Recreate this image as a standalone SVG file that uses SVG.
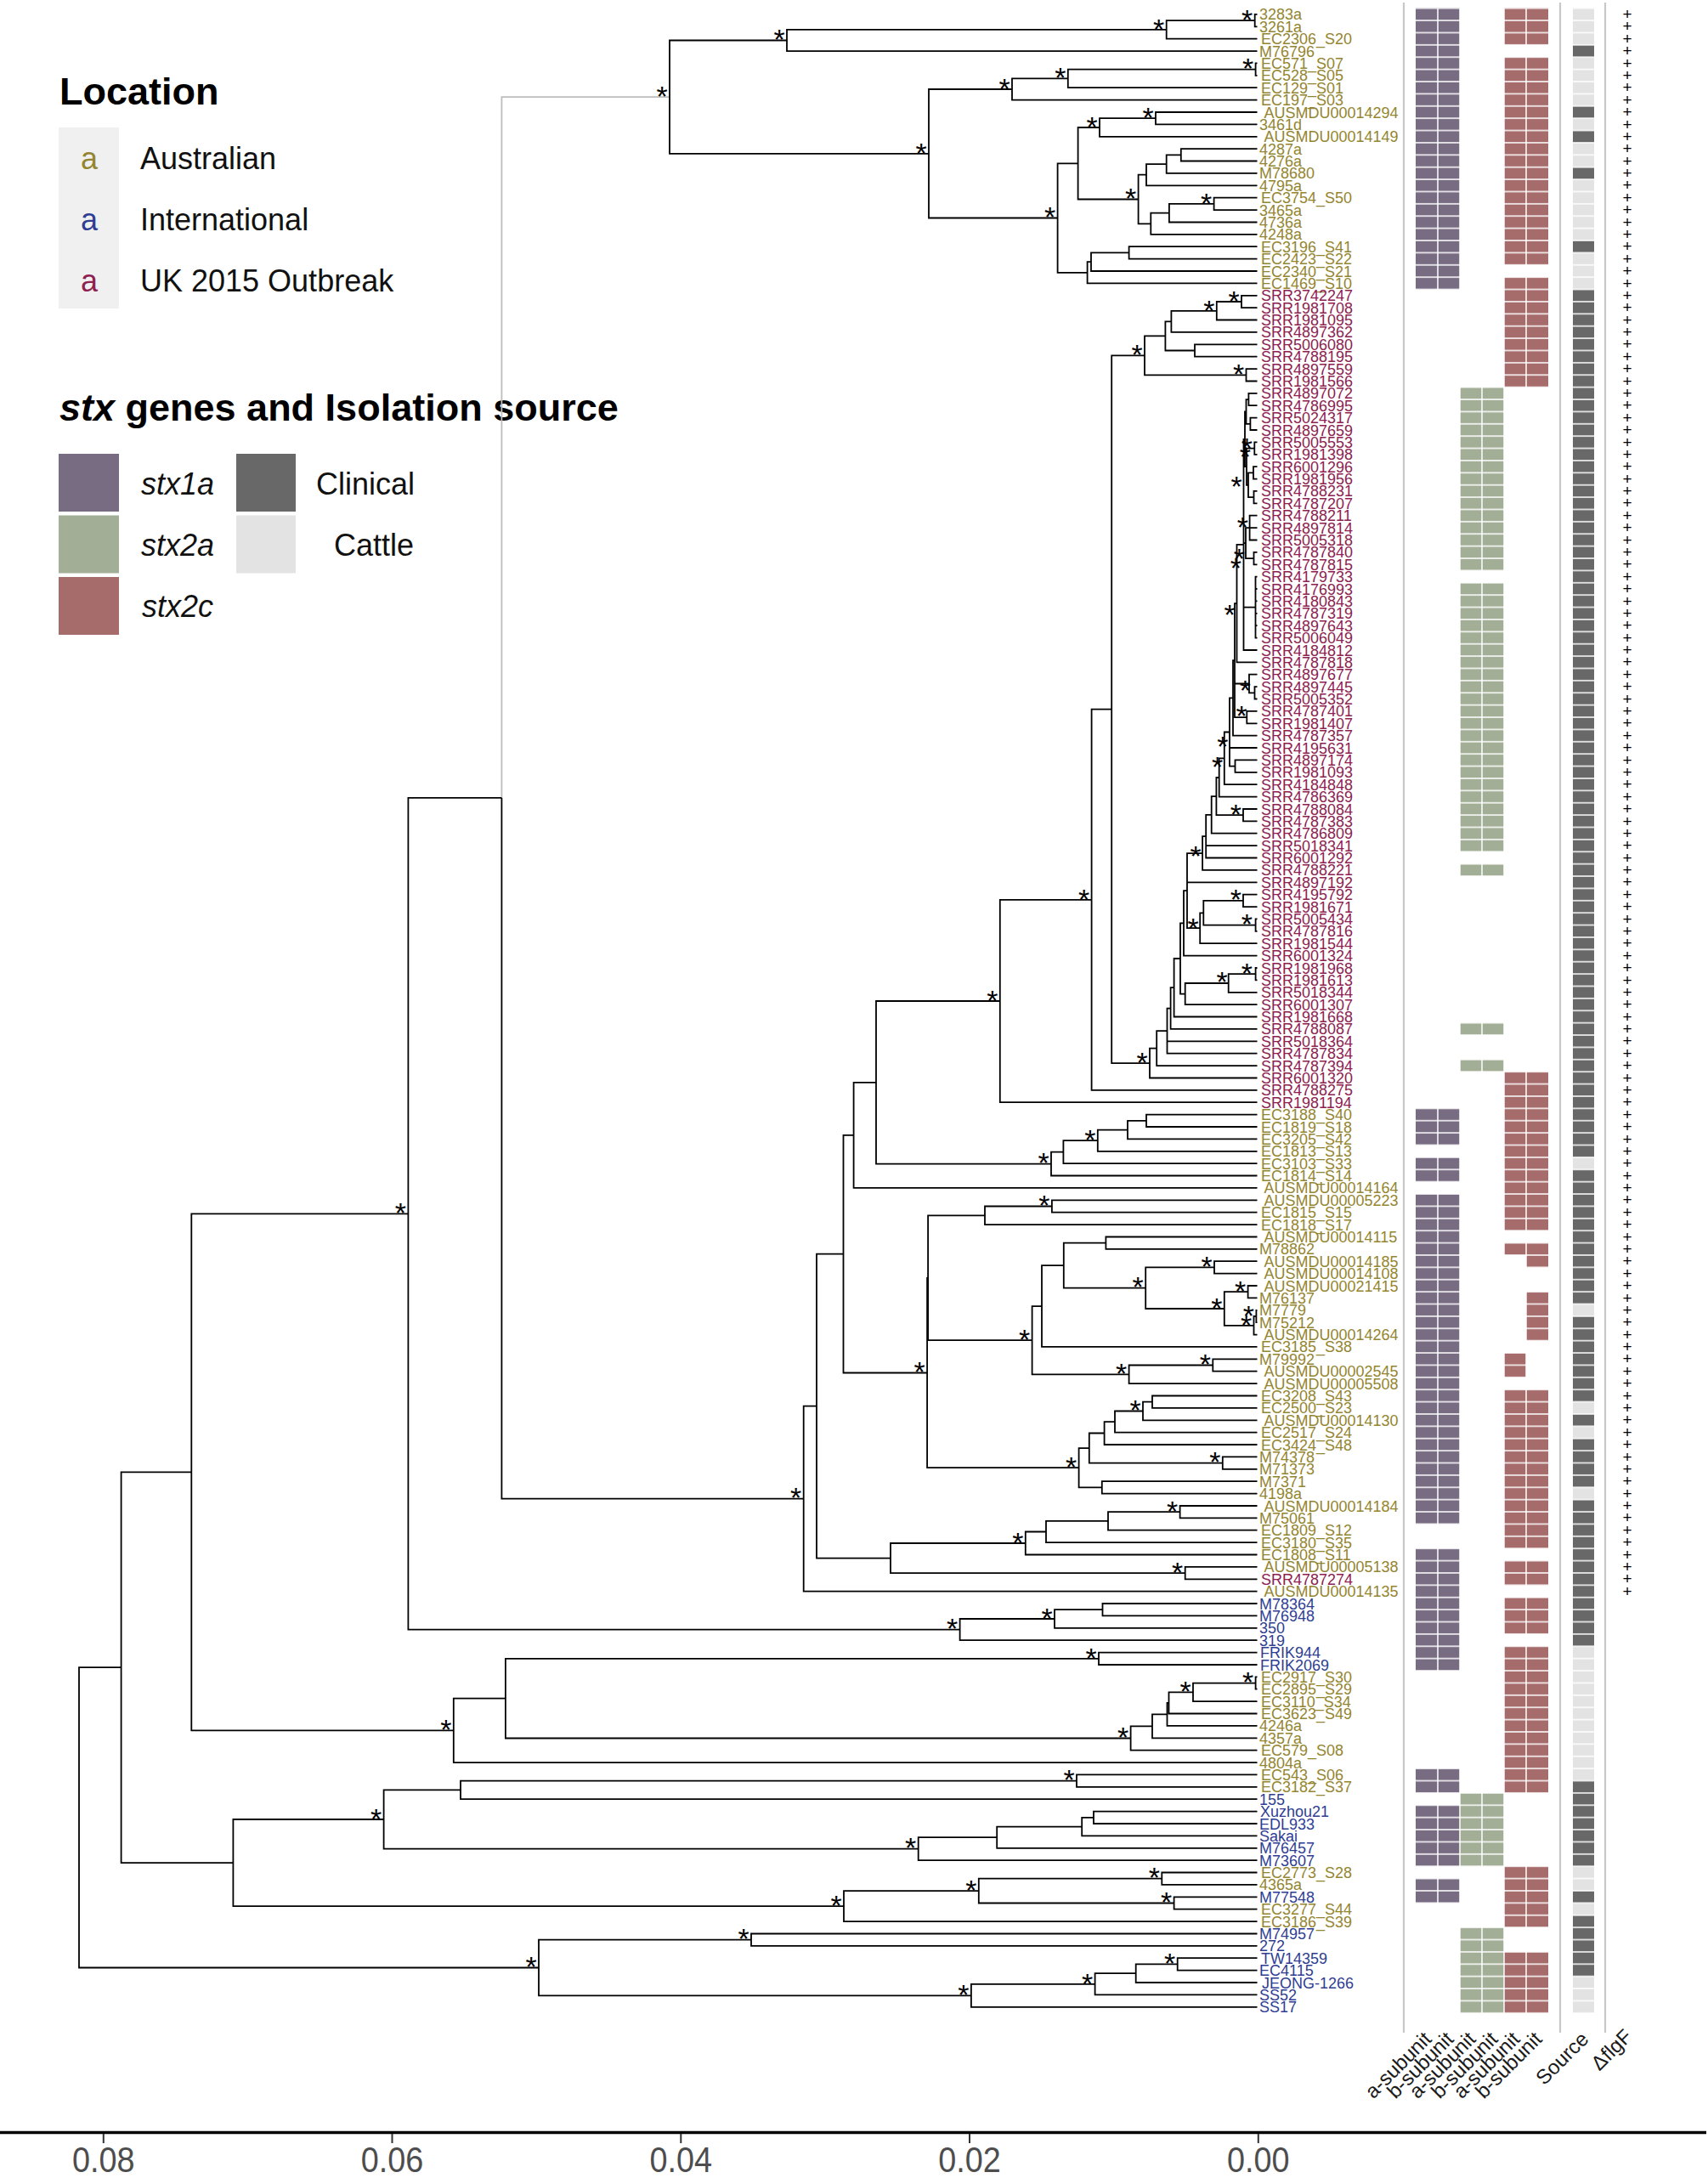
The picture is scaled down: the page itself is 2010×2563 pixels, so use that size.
<svg xmlns="http://www.w3.org/2000/svg" width="2010" height="2563" viewBox="0 0 2010 2563">
<defs>
<style>
.br{fill:none;stroke:#000;stroke-width:1.8}
.gb{fill:none;stroke:#bdbdbd;stroke-width:1.8}
.sep{stroke:#c8c8c8;stroke-width:2.2}
text{font-family:"Liberation Sans",Arial,Helvetica,sans-serif}
.st{font-size:34px;text-anchor:middle;fill:#000}
.lb{font-size:18px}
.pl{font-size:19px;text-anchor:middle;fill:#000}
.ttl{font-size:45px;font-weight:bold;fill:#000}
.lg{font-size:36px;fill:#111}
.hd{font-size:24px;text-anchor:end;fill:#1a1a1a}
.ax{font-size:42px;text-anchor:middle;fill:#4d4d4d}
.p1{fill:#786c82}.g2{fill:#a3ae97}.r2{fill:#a66b6b}.dk{fill:#686868}.lt{fill:#e3e3e3}
.au{fill:#948530}.in{fill:#2f3e92}.uk{fill:#8e2150}
</style>
<pattern id="rowgrid" patternUnits="userSpaceOnUse" x="0" y="9.7" width="200" height="14.385">
<rect width="200" height="0.75" fill="#fff"/><rect y="13.635" width="200" height="0.75" fill="#fff"/>
</pattern>
</defs>
<rect width="2010" height="2563" fill="#fff"/>

<g id="legend-location">
<text class="ttl" x="70" y="123">Location</text>
<rect x="69" y="150" width="71" height="213" fill="#f0f0f0"/>
<text class="lg au" x="105" y="199" text-anchor="middle">a</text>
<text class="lg in" x="105" y="271" text-anchor="middle">a</text>
<text class="lg uk" x="105" y="343" text-anchor="middle">a</text>
<text class="lg" x="165" y="199">Australian</text>
<text class="lg" x="165" y="271">International</text>
<text class="lg" x="165" y="343">UK 2015 Outbreak</text>
</g>
<g id="legend-stx">
<text class="ttl" x="70" y="494.5"><tspan font-style="italic">stx</tspan> genes and Isolation source</text>
<rect class="p1" x="69" y="534" width="71" height="68"/>
<rect class="g2" x="69" y="606.5" width="71" height="68"/>
<rect class="r2" x="69" y="679" width="71" height="68"/>
<rect class="dk" x="278" y="534" width="70" height="68"/>
<rect class="lt" x="278" y="606.5" width="70" height="68"/>
<text class="lg" x="166" y="582" font-style="italic">stx1a</text>
<text class="lg" x="166" y="654" font-style="italic">stx2a</text>
<text class="lg" x="167" y="726" font-style="italic">stx2c</text>
<text class="lg" x="372" y="582">Clinical</text>
<text class="lg" x="393" y="654">Cattle</text>
</g>

<g id="connectors">
<path class="gb" d="M788 114.1H590.4V938.9"/>
<path class="br" d="M1479.5 16.9H1476.7V31.3H1479.5M1476.7 24.1H1372.7V45.7H1479.5M1372.7 34.9H926V60.1H1479.5M1479.5 74.4H1477.6V88.8H1479.5M1477.6 81.6H1256.8V103.2H1479.5M1256.8 92.4H1191V117.6H1479.5M1479.5 132H1360V146.4H1479.5M1360 139.2H1294V160.8H1479.5M1479.5 175.1H1389.8V189.5H1479.5M1389.8 182.3H1372.7V203.9H1479.5M1372.7 193.1H1349V218.3H1479.5M1479.5 232.7H1428.6V247.1H1479.5M1428.6 239.9H1375.9V261.5H1479.5M1375.9 250.7H1354.3V275.8H1479.5M1349 205.7H1339.6V263.3H1354.3M1294 150H1268.6V234.5H1339.6M1479.5 290.2H1328.6V304.6H1479.5M1328.6 297.4H1284V319H1479.5M1284 308.2H1279.6V333.4H1479.5M1268.6 192.3H1244.6V320.8H1279.6M1191 105H1093V256.5H1244.6M926 47.5H788V180.8H1093"/>
<path class="br" d="M590.4 938.9V1763.7H945.7"/>
<path class="br" d="M1479.5 347.8H1461V362.2H1479.5M1461 355H1431.8V376.5H1479.5M1431.8 365.8H1378.4V390.9H1479.5M1479.5 405.3H1406V419.7H1479.5M1378.4 378.3H1371.4V412.5H1406M1479.5 434.1H1466.5V448.5H1479.5M1371.4 395.4H1347V441.3H1466.5M1347 418.4H1308.2V1251.1H1353"/>
<path class="br" d="M1479.5 462.9H1469.4V477.2H1479.5M1479.5 491.6H1471.4V506H1479.5M1469.4 470.1H1466.5V498.8H1471.4M1479.5 520.4H1476.3V534.8H1479.5M1479.5 549.2H1475V563.6H1479.5M1479.5 577.9H1475.5V592.3H1479.5M1475 556.4H1469V585.1H1475.5M1476.3 527.6H1467V570.8H1469M1466.5 484.4H1465V549.2H1467M1479.5 606.7H1470.6V635.5H1479.5M1470.6 621.1H1479.5M1479.5 649.9H1475.5V664.3H1479.5M1470.6 621.1H1466V657.1H1475.5M1479.5 678.6H1477.5V750.6H1479.5M1477.5 693H1479.5M1477.5 707.4H1479.5M1477.5 721.8H1479.5M1477.5 736.2H1479.5M1465 516.8H1463.5V765H1479.5M1463.5 639.1H1466M1463.5 714.6H1477.5M1463.5 640.9H1455.5V779.3H1479.5M1479.5 808.1H1476.5V822.5H1479.5M1479.5 793.7H1470V815.3H1476.5M1479.5 836.9H1467.3V851.3H1479.5M1455.5 710.1H1453V844.1H1467.3M1453 804.5H1470M1453 777.1H1451V865.7H1479.5M1479.5 894.4H1453.5V908.8H1479.5M1451 821.4H1447V901.6H1453.5M1447 880H1479.5M1447 861.5H1440.8V923.2H1479.5M1440.8 892.4H1434.7V937.6H1479.5M1479.5 952H1463V966.4H1479.5M1434.7 915H1431.4V959.2H1463M1431.4 937.1H1425.7V980.7H1479.5M1425.7 958.9H1419.2V1009.5H1479.5M1419.2 995.1H1479.5M1419.2 984.2H1415.1V1023.9H1479.5M1479.5 1052.7H1463V1067.1H1479.5M1479.5 1081.4H1477.6V1095.8H1479.5M1463 1059.9H1416.3V1088.6H1477.6M1416.3 1074.3H1412.2V1110.2H1479.5M1415.1 1004.1H1397V1092.2H1412.2M1397 1038.3H1479.5M1397 1048.1H1393V1124.6H1479.5M1479.5 1139H1477.6V1153.4H1479.5M1477.6 1146.2H1445.7V1167.8H1479.5M1445.7 1157H1394.7V1182.1H1479.5M1393 1086.4H1389V1169.6H1394.7M1389 1128H1381.6V1196.5H1479.5M1381.6 1162.2H1377.6V1210.9H1479.5M1377.6 1186.6H1373.5V1239.7H1479.5M1373.5 1225.3H1479.5M1373.5 1213.1H1361.2V1254.1H1479.5M1361.2 1233.6H1353V1268.5H1479.5"/>
<path class="br" d="M1308.2 834.7H1284.6V1282.8H1479.5M1284.6 1058.8H1176.8V1297.2H1479.5M1479.5 1311.6H1349V1326H1479.5M1349 1318.8H1327V1340.4H1479.5M1327 1329.6H1291.8V1354.8H1479.5M1291.8 1342.2H1251.4V1369.2H1479.5M1251.4 1355.7H1237V1383.5H1479.5M1176.8 1178H1031V1369.6H1237M1031 1273.8H1004.6V1397.9H1479.5M1479.5 1412.3H1237.9V1426.7H1479.5M1237.9 1419.5H1159V1441.1H1479.5M1479.5 1455.5H1301.4V1469.9H1479.5M1479.5 1484.2H1429V1498.6H1479.5M1479.5 1513H1468.6V1527.4H1479.5M1479.5 1541.8H1478.4V1556.2H1479.5M1478.4 1549H1475.5V1570.6H1479.5M1468.6 1520.2H1440.8V1559.8H1475.5M1429 1491.4H1348.2V1540H1440.8M1301.4 1462.7H1251.8V1515.7H1348.2M1251.8 1489.2H1226V1584.9H1479.5M1479.5 1599.3H1427.3V1613.7H1479.5M1427.3 1606.5H1328.6V1628.1H1479.5M1226 1537.1H1214.6V1617.3H1328.6M1159 1430.3H1092.1V1577.2H1214.6M1479.5 1642.5H1356V1656.9H1479.5M1356 1649.7H1345V1671.3H1479.5M1345 1660.5H1312V1685.6H1479.5M1312 1673.1H1299.6V1700H1479.5M1479.5 1714.4H1438.8V1728.8H1479.5M1299.6 1686.5H1281.8V1721.6H1438.8M1479.5 1743.2H1296.8V1757.6H1479.5M1281.8 1704.1H1269.6V1750.4H1296.8M1092.1 1503.8H1091.1V1727.2H1269.6M1004.6 1335.9H992.5V1615.5H1091.1M1479.5 1772H1388.6V1786.3H1479.5M1388.6 1779.2H1304V1800.7H1479.5M1304 1789.9H1231V1815.1H1479.5M1231 1802.5H1206.8V1829.5H1479.5M1479.5 1843.9H1394.7V1858.3H1479.5M1206.8 1816H1048V1851.1H1394.7M992.5 1475.7H961V1833.6H1048M961 1654.6H945.7V1872.7H1479.5"/>
<path class="br" d="M1479.5 1887H1297.5V1901.4H1479.5M1297.5 1894.2H1241V1915.8H1479.5M1241 1905H1129.6V1930.2H1479.5M590.4 938.9H480.4V1917.6H1129.6M1479.5 1944.6H1293V1959H1479.5M1479.5 1973.4H1477.6V1987.7H1479.5M1477.6 1980.6H1404V2002.1H1479.5M1404 1991.3H1375.5V2016.5H1479.5M1375.5 2003.9H1373.5V2030.9H1479.5M1373.5 2017.4H1356V2045.3H1479.5M1356 2031.4H1330.6V2059.7H1479.5M1293 1951.8H594.9V2045.5H1330.6M594.9 1998.7H533.8V2074.1H1479.5M480.4 1428.3H225.3V2036.4H533.8M1479.5 2088.4H1267V2102.8H1479.5M1267 2095.6H542V2117.2H1479.5M1479.5 2131.6H1287V2146H1479.5M1287 2138.8H1273.2V2160.4H1479.5M1273.2 2149.6H1173.2V2174.8H1479.5M1173.2 2162.2H1080.7V2189.1H1479.5M542 2106.4H451.6V2175.7H1080.7M1479.5 2203.5H1367.3V2217.9H1479.5M1479.5 2232.3H1381.6V2246.7H1479.5M1367.3 2210.7H1151.8V2239.5H1381.6M1151.8 2225.1H993V2261.1H1479.5M451.6 2141H274.4V2243.1H993M225.3 1732.3H142.6V2192.1H274.4M1479.5 2275.5H884V2289.8H1479.5M1479.5 2304.2H1385.7V2318.6H1479.5M1385.7 2311.4H1336.7V2333H1479.5M1336.7 2322.2H1288.6V2347.4H1479.5M1288.6 2334.8H1142.9V2361.8H1479.5M884 2282.7H634V2348.3H1142.9M142.6 1962.2H93V2315.5H634"/>
</g>

<g id="support" transform="translate(0,3.3)">
<text class="st" x="1467.7" y="31.6">*</text>
<text class="st" x="1363.7" y="42.4">*</text>
<text class="st" x="917" y="55">*</text>
<text class="st" x="1468.6" y="89.1">*</text>
<text class="st" x="1247.8" y="99.9">*</text>
<text class="st" x="1182" y="112.5">*</text>
<text class="st" x="1351" y="146.7">*</text>
<text class="st" x="1285" y="157.5">*</text>
<text class="st" x="1419.6" y="247.4">*</text>
<text class="st" x="1330.6" y="242">*</text>
<text class="st" x="1235.6" y="264">*</text>
<text class="st" x="1084" y="188.3">*</text>
<text class="st" x="779" y="121.6">*</text>
<text class="st" x="1452" y="362.5">*</text>
<text class="st" x="1422.8" y="373.3">*</text>
<text class="st" x="1338" y="425.9">*</text>
<text class="st" x="1457.5" y="448.8">*</text>
<text class="st" x="1467.3" y="535.5">*</text>
<text class="st" x="1465.3" y="546.2">*</text>
<text class="st" x="1455" y="580.5">*</text>
<text class="st" x="1462.4" y="628.8">*</text>
<text class="st" x="1458.4" y="665.5">*</text>
<text class="st" x="1454.3" y="677.2">*</text>
<text class="st" x="1447" y="732.2">*</text>
<text class="st" x="1465.3" y="820.5">*</text>
<text class="st" x="1461" y="850.5">*</text>
<text class="st" x="1438.8" y="887.2">*</text>
<text class="st" x="1432.7" y="910.5">*</text>
<text class="st" x="1454.3" y="967.2">*</text>
<text class="st" x="1407" y="1015.5">*</text>
<text class="st" x="1454.3" y="1067.2">*</text>
<text class="st" x="1404" y="1100.5">*</text>
<text class="st" x="1467.3" y="1095.5">*</text>
<text class="st" x="1467.3" y="1153.8">*</text>
<text class="st" x="1438" y="1163.8">*</text>
<text class="st" x="1344" y="1258.6">*</text>
<text class="st" x="1275.6" y="1066.3">*</text>
<text class="st" x="1167.8" y="1185.5">*</text>
<text class="st" x="1282.8" y="1349.7">*</text>
<text class="st" x="1228" y="1377.1">*</text>
<text class="st" x="1228.9" y="1427">*</text>
<text class="st" x="1339.2" y="1523.2">*</text>
<text class="st" x="1420" y="1498.9">*</text>
<text class="st" x="1459.6" y="1527.7">*</text>
<text class="st" x="1431.8" y="1547.5">*</text>
<text class="st" x="1469.4" y="1556.5">*</text>
<text class="st" x="1466.5" y="1567.3">*</text>
<text class="st" x="1418.3" y="1614">*</text>
<text class="st" x="1319.6" y="1624.8">*</text>
<text class="st" x="1205.6" y="1584.7">*</text>
<text class="st" x="1082.1" y="1623">*</text>
<text class="st" x="1336" y="1668">*</text>
<text class="st" x="1429.8" y="1729.1">*</text>
<text class="st" x="1260.6" y="1734.7">*</text>
<text class="st" x="1379.6" y="1786.7">*</text>
<text class="st" x="1197.8" y="1823.5">*</text>
<text class="st" x="1385.7" y="1858.6">*</text>
<text class="st" x="936.7" y="1771.2">*</text>
<text class="st" x="1232" y="1912.5">*</text>
<text class="st" x="1120.6" y="1925.1">*</text>
<text class="st" x="471.4" y="1435.8">*</text>
<text class="st" x="1284" y="1959.3">*</text>
<text class="st" x="1468.6" y="1988.1">*</text>
<text class="st" x="1395" y="1998.8">*</text>
<text class="st" x="1321.6" y="2053">*</text>
<text class="st" x="524.8" y="2043.9">*</text>
<text class="st" x="1258" y="2103.1">*</text>
<text class="st" x="1071.7" y="2183.2">*</text>
<text class="st" x="442.6" y="2148.5">*</text>
<text class="st" x="1358.3" y="2218.2">*</text>
<text class="st" x="1372.6" y="2247">*</text>
<text class="st" x="1142.8" y="2232.6">*</text>
<text class="st" x="984" y="2250.6">*</text>
<text class="st" x="875" y="2290.2">*</text>
<text class="st" x="1376.7" y="2318.9">*</text>
<text class="st" x="1279.6" y="2342.3">*</text>
<text class="st" x="1133.9" y="2355.8">*</text>
<text class="st" x="625" y="2323">*</text>
</g>

<g id="tips" transform="translate(0,6.5)">
<g id="t1"><text class="lb au" x="1482" y="16.9">3283a</text></g>
<g id="t2"><text class="lb au" x="1482" y="31.3">3261a</text></g>
<g id="t3"><text class="lb au" x="1484" y="45.7">EC2306_S20</text></g>
<g id="t4"><text class="lb au" x="1482" y="60.1">M76796</text></g>
<g id="t5"><text class="lb au" x="1484" y="74.4">EC571_S07</text></g>
<g id="t6"><text class="lb au" x="1484" y="88.8">EC528_S05</text></g>
<g id="t7"><text class="lb au" x="1484" y="103.2">EC129_S01</text></g>
<g id="t8"><text class="lb au" x="1484" y="117.6">EC197_S03</text></g>
<g id="t9"><text class="lb au" x="1487.5" y="132">AUSMDU00014294</text></g>
<g id="t10"><text class="lb au" x="1482" y="146.4">3461d</text></g>
<g id="t11"><text class="lb au" x="1487.5" y="160.8">AUSMDU00014149</text></g>
<g id="t12"><text class="lb au" x="1482" y="175.1">4287a</text></g>
<g id="t13"><text class="lb au" x="1482" y="189.5">4276a</text></g>
<g id="t14"><text class="lb au" x="1482" y="203.9">M78680</text></g>
<g id="t15"><text class="lb au" x="1482" y="218.3">4795a</text></g>
<g id="t16"><text class="lb au" x="1484" y="232.7">EC3754_S50</text></g>
<g id="t17"><text class="lb au" x="1482" y="247.1">3465a</text></g>
<g id="t18"><text class="lb au" x="1482" y="261.5">4736a</text></g>
<g id="t19"><text class="lb au" x="1482" y="275.8">4248a</text></g>
<g id="t20"><text class="lb au" x="1484" y="290.2">EC3196_S41</text></g>
<g id="t21"><text class="lb au" x="1484" y="304.6">EC2423_S22</text></g>
<g id="t22"><text class="lb au" x="1484" y="319">EC2340_S21</text></g>
<g id="t23"><text class="lb au" x="1484" y="333.4">EC1469_S10</text></g>
<g id="t24"><text class="lb uk" x="1484" y="347.8">SRR3742247</text></g>
<g id="t25"><text class="lb uk" x="1484" y="362.2">SRR1981708</text></g>
<g id="t26"><text class="lb uk" x="1484" y="376.5">SRR1981095</text></g>
<g id="t27"><text class="lb uk" x="1484" y="390.9">SRR4897362</text></g>
<g id="t28"><text class="lb uk" x="1484" y="405.3">SRR5006080</text></g>
<g id="t29"><text class="lb uk" x="1484" y="419.7">SRR4788195</text></g>
<g id="t30"><text class="lb uk" x="1484" y="434.1">SRR4897559</text></g>
<g id="t31"><text class="lb uk" x="1484" y="448.5">SRR1981566</text></g>
<g id="t32"><text class="lb uk" x="1484" y="462.9">SRR4897072</text></g>
<g id="t33"><text class="lb uk" x="1484" y="477.2">SRR4786995</text></g>
<g id="t34"><text class="lb uk" x="1484" y="491.6">SRR5024317</text></g>
<g id="t35"><text class="lb uk" x="1484" y="506">SRR4897659</text></g>
<g id="t36"><text class="lb uk" x="1484" y="520.4">SRR5005553</text></g>
<g id="t37"><text class="lb uk" x="1484" y="534.8">SRR1981398</text></g>
<g id="t38"><text class="lb uk" x="1484" y="549.2">SRR6001296</text></g>
<g id="t39"><text class="lb uk" x="1484" y="563.6">SRR1981956</text></g>
<g id="t40"><text class="lb uk" x="1484" y="577.9">SRR4788231</text></g>
<g id="t41"><text class="lb uk" x="1484" y="592.3">SRR4787207</text></g>
<g id="t42"><text class="lb uk" x="1484" y="606.7">SRR4788211</text></g>
<g id="t43"><text class="lb uk" x="1484" y="621.1">SRR4897814</text></g>
<g id="t44"><text class="lb uk" x="1484" y="635.5">SRR5005318</text></g>
<g id="t45"><text class="lb uk" x="1484" y="649.9">SRR4787840</text></g>
<g id="t46"><text class="lb uk" x="1484" y="664.3">SRR4787815</text></g>
<g id="t47"><text class="lb uk" x="1484" y="678.6">SRR4179733</text></g>
<g id="t48"><text class="lb uk" x="1484" y="693">SRR4176993</text></g>
<g id="t49"><text class="lb uk" x="1484" y="707.4">SRR4180843</text></g>
<g id="t50"><text class="lb uk" x="1484" y="721.8">SRR4787319</text></g>
<g id="t51"><text class="lb uk" x="1484" y="736.2">SRR4897643</text></g>
<g id="t52"><text class="lb uk" x="1484" y="750.6">SRR5006049</text></g>
<g id="t53"><text class="lb uk" x="1484" y="765">SRR4184812</text></g>
<g id="t54"><text class="lb uk" x="1484" y="779.3">SRR4787818</text></g>
<g id="t55"><text class="lb uk" x="1484" y="793.7">SRR4897677</text></g>
<g id="t56"><text class="lb uk" x="1484" y="808.1">SRR4897445</text></g>
<g id="t57"><text class="lb uk" x="1484" y="822.5">SRR5005352</text></g>
<g id="t58"><text class="lb uk" x="1484" y="836.9">SRR4787401</text></g>
<g id="t59"><text class="lb uk" x="1484" y="851.3">SRR1981407</text></g>
<g id="t60"><text class="lb uk" x="1484" y="865.7">SRR4787357</text></g>
<g id="t61"><text class="lb uk" x="1484" y="880">SRR4195631</text></g>
<g id="t62"><text class="lb uk" x="1484" y="894.4">SRR4897174</text></g>
<g id="t63"><text class="lb uk" x="1484" y="908.8">SRR1981093</text></g>
<g id="t64"><text class="lb uk" x="1484" y="923.2">SRR4184848</text></g>
<g id="t65"><text class="lb uk" x="1484" y="937.6">SRR4786369</text></g>
<g id="t66"><text class="lb uk" x="1484" y="952">SRR4788084</text></g>
<g id="t67"><text class="lb uk" x="1484" y="966.4">SRR4787383</text></g>
<g id="t68"><text class="lb uk" x="1484" y="980.7">SRR4786809</text></g>
<g id="t69"><text class="lb uk" x="1484" y="995.1">SRR5018341</text></g>
<g id="t70"><text class="lb uk" x="1484" y="1009.5">SRR6001292</text></g>
<g id="t71"><text class="lb uk" x="1484" y="1023.9">SRR4788221</text></g>
<g id="t72"><text class="lb uk" x="1484" y="1038.3">SRR4897192</text></g>
<g id="t73"><text class="lb uk" x="1484" y="1052.7">SRR4195792</text></g>
<g id="t74"><text class="lb uk" x="1484" y="1067.1">SRR1981671</text></g>
<g id="t75"><text class="lb uk" x="1484" y="1081.4">SRR5005434</text></g>
<g id="t76"><text class="lb uk" x="1484" y="1095.8">SRR4787816</text></g>
<g id="t77"><text class="lb uk" x="1484" y="1110.2">SRR1981544</text></g>
<g id="t78"><text class="lb uk" x="1484" y="1124.6">SRR6001324</text></g>
<g id="t79"><text class="lb uk" x="1484" y="1139">SRR1981968</text></g>
<g id="t80"><text class="lb uk" x="1484" y="1153.4">SRR1981613</text></g>
<g id="t81"><text class="lb uk" x="1484" y="1167.8">SRR5018344</text></g>
<g id="t82"><text class="lb uk" x="1484" y="1182.1">SRR6001307</text></g>
<g id="t83"><text class="lb uk" x="1484" y="1196.5">SRR1981668</text></g>
<g id="t84"><text class="lb uk" x="1484" y="1210.9">SRR4788087</text></g>
<g id="t85"><text class="lb uk" x="1484" y="1225.3">SRR5018364</text></g>
<g id="t86"><text class="lb uk" x="1484" y="1239.7">SRR4787834</text></g>
<g id="t87"><text class="lb uk" x="1484" y="1254.1">SRR4787394</text></g>
<g id="t88"><text class="lb uk" x="1484" y="1268.5">SRR6001320</text></g>
<g id="t89"><text class="lb uk" x="1484" y="1282.8">SRR4788275</text></g>
<g id="t90"><text class="lb uk" x="1484" y="1297.2">SRR1981194</text></g>
<g id="t91"><text class="lb au" x="1484" y="1311.6">EC3188_S40</text></g>
<g id="t92"><text class="lb au" x="1484" y="1326">EC1819_S18</text></g>
<g id="t93"><text class="lb au" x="1484" y="1340.4">EC3205_S42</text></g>
<g id="t94"><text class="lb au" x="1484" y="1354.8">EC1813_S13</text></g>
<g id="t95"><text class="lb au" x="1484" y="1369.2">EC3103_S33</text></g>
<g id="t96"><text class="lb au" x="1484" y="1383.5">EC1814_S14</text></g>
<g id="t97"><text class="lb au" x="1487.5" y="1397.9">AUSMDU00014164</text></g>
<g id="t98"><text class="lb au" x="1487.5" y="1412.3">AUSMDU00005223</text></g>
<g id="t99"><text class="lb au" x="1484" y="1426.7">EC1815_S15</text></g>
<g id="t100"><text class="lb au" x="1484" y="1441.1">EC1818_S17</text></g>
<g id="t101"><text class="lb au" x="1487.5" y="1455.5">AUSMDU00014115</text></g>
<g id="t102"><text class="lb au" x="1482" y="1469.9">M78862</text></g>
<g id="t103"><text class="lb au" x="1487.5" y="1484.2">AUSMDU00014185</text></g>
<g id="t104"><text class="lb au" x="1487.5" y="1498.6">AUSMDU00014108</text></g>
<g id="t105"><text class="lb au" x="1487.5" y="1513">AUSMDU00021415</text></g>
<g id="t106"><text class="lb au" x="1482" y="1527.4">M76137</text></g>
<g id="t107"><text class="lb au" x="1482" y="1541.8">M7779</text></g>
<g id="t108"><text class="lb au" x="1482" y="1556.2">M75212</text></g>
<g id="t109"><text class="lb au" x="1487.5" y="1570.6">AUSMDU00014264</text></g>
<g id="t110"><text class="lb au" x="1484" y="1584.9">EC3185_S38</text></g>
<g id="t111"><text class="lb au" x="1482" y="1599.3">M79992</text></g>
<g id="t112"><text class="lb au" x="1487.5" y="1613.7">AUSMDU00002545</text></g>
<g id="t113"><text class="lb au" x="1487.5" y="1628.1">AUSMDU00005508</text></g>
<g id="t114"><text class="lb au" x="1484" y="1642.5">EC3208_S43</text></g>
<g id="t115"><text class="lb au" x="1484" y="1656.9">EC2500_S23</text></g>
<g id="t116"><text class="lb au" x="1487.5" y="1671.3">AUSMDU00014130</text></g>
<g id="t117"><text class="lb au" x="1484" y="1685.6">EC2517_S24</text></g>
<g id="t118"><text class="lb au" x="1484" y="1700">EC3424_S48</text></g>
<g id="t119"><text class="lb au" x="1482" y="1714.4">M74378</text></g>
<g id="t120"><text class="lb au" x="1482" y="1728.8">M71373</text></g>
<g id="t121"><text class="lb au" x="1482" y="1743.2">M7371</text></g>
<g id="t122"><text class="lb au" x="1482" y="1757.6">4198a</text></g>
<g id="t123"><text class="lb au" x="1487.5" y="1772">AUSMDU00014184</text></g>
<g id="t124"><text class="lb au" x="1482" y="1786.3">M75061</text></g>
<g id="t125"><text class="lb au" x="1484" y="1800.7">EC1809_S12</text></g>
<g id="t126"><text class="lb au" x="1484" y="1815.1">EC3180_S35</text></g>
<g id="t127"><text class="lb au" x="1484" y="1829.5">EC1808_S11</text></g>
<g id="t128"><text class="lb au" x="1487.5" y="1843.9">AUSMDU00005138</text></g>
<g id="t129"><text class="lb uk" x="1484" y="1858.3">SRR4787274</text></g>
<g id="t130"><text class="lb au" x="1487.5" y="1872.7">AUSMDU00014135</text></g>
<g id="t131"><text class="lb in" x="1482" y="1887">M78364</text></g>
<g id="t132"><text class="lb in" x="1482" y="1901.4">M76948</text></g>
<g id="t133"><text class="lb in" x="1482" y="1915.8">350</text></g>
<g id="t134"><text class="lb in" x="1482" y="1930.2">319</text></g>
<g id="t135"><text class="lb in" x="1483" y="1944.6">FRIK944</text></g>
<g id="t136"><text class="lb in" x="1483" y="1959">FRIK2069</text></g>
<g id="t137"><text class="lb au" x="1484" y="1973.4">EC2917_S30</text></g>
<g id="t138"><text class="lb au" x="1484" y="1987.7">EC2895_S29</text></g>
<g id="t139"><text class="lb au" x="1484" y="2002.1">EC3110_S34</text></g>
<g id="t140"><text class="lb au" x="1484" y="2016.5">EC3623_S49</text></g>
<g id="t141"><text class="lb au" x="1482" y="2030.9">4246a</text></g>
<g id="t142"><text class="lb au" x="1482" y="2045.3">4357a</text></g>
<g id="t143"><text class="lb au" x="1484" y="2059.7">EC579_S08</text></g>
<g id="t144"><text class="lb au" x="1482" y="2074.1">4804a</text></g>
<g id="t145"><text class="lb au" x="1484" y="2088.4">EC543_S06</text></g>
<g id="t146"><text class="lb au" x="1484" y="2102.8">EC3182_S37</text></g>
<g id="t147"><text class="lb in" x="1482" y="2117.2">155</text></g>
<g id="t148"><text class="lb in" x="1483" y="2131.6">Xuzhou21</text></g>
<g id="t149"><text class="lb in" x="1482" y="2146">EDL933</text></g>
<g id="t150"><text class="lb in" x="1482" y="2160.4">Sakai</text></g>
<g id="t151"><text class="lb in" x="1482" y="2174.8">M76457</text></g>
<g id="t152"><text class="lb in" x="1482" y="2189.1">M73607</text></g>
<g id="t153"><text class="lb au" x="1484" y="2203.5">EC2773_S28</text></g>
<g id="t154"><text class="lb au" x="1482" y="2217.9">4365a</text></g>
<g id="t155"><text class="lb in" x="1482" y="2232.3">M77548</text></g>
<g id="t156"><text class="lb au" x="1484" y="2246.7">EC3277_S44</text></g>
<g id="t157"><text class="lb au" x="1484" y="2261.1">EC3186_S39</text></g>
<g id="t158"><text class="lb in" x="1482" y="2275.5">M74957</text></g>
<g id="t159"><text class="lb in" x="1482" y="2289.8">272</text></g>
<g id="t160"><text class="lb in" x="1484" y="2304.2">TW14359</text></g>
<g id="t161"><text class="lb in" x="1482" y="2318.6">EC4115</text></g>
<g id="t162"><text class="lb in" x="1485" y="2333">JEONG-1266</text></g>
<g id="t163"><text class="lb in" x="1482" y="2347.4">SS52</text></g>
<g id="t164"><text class="lb in" x="1482" y="2361.8">SS17</text></g>
</g>

<g id="heatmap">
<rect class="p1" x="1666" y="9.7" width="52" height="330.9"/>
<rect class="p1" x="1666" y="1304.35" width="52" height="43.2"/>
<rect class="p1" x="1666" y="1361.9" width="52" height="28.8"/>
<rect class="p1" x="1666" y="1405.05" width="52" height="388.4"/>
<rect class="p1" x="1666" y="1822.2" width="52" height="143.85"/>
<rect class="p1" x="1666" y="2081.1" width="52" height="28.8"/>
<rect class="p1" x="1666" y="2124.3" width="52" height="71.9"/>
<rect class="p1" x="1666" y="2210.6" width="52" height="28.8"/>
<rect class="g2" x="1718" y="455.6" width="52" height="215.8"/>
<rect class="g2" x="1718" y="685.8" width="52" height="316.5"/>
<rect class="g2" x="1718" y="1016.65" width="52" height="14.4"/>
<rect class="g2" x="1718" y="1203.65" width="52" height="14.4"/>
<rect class="g2" x="1718" y="1246.8" width="52" height="14.4"/>
<rect class="g2" x="1718" y="2109.9" width="52" height="86.3"/>
<rect class="g2" x="1718" y="2268.1" width="52" height="100.7"/>
<rect class="r2" x="1770" y="9.7" width="52" height="43.2"/>
<rect class="r2" x="1770" y="67.2" width="52" height="244.5"/>
<rect class="r2" x="1770" y="326.2" width="52" height="129.5"/>
<rect class="r2" x="1770" y="1261.2" width="52" height="187"/>
<rect class="r2" x="1770" y="1462.6" width="52" height="14.4"/>
<rect class="r2" x="1796" y="1477" width="26" height="14.4"/>
<rect class="r2" x="1796" y="1520.1" width="26" height="57.5"/>
<rect class="r2" x="1770" y="1592.05" width="26" height="28.8"/>
<rect class="r2" x="1770" y="1635.2" width="52" height="187"/>
<rect class="r2" x="1770" y="1836.6" width="52" height="28.8"/>
<rect class="r2" x="1770" y="1879.75" width="52" height="43.2"/>
<rect class="r2" x="1770" y="1937.3" width="52" height="172.6"/>
<rect class="r2" x="1770" y="2196.2" width="52" height="71.9"/>
<rect class="r2" x="1770" y="2296.9" width="52" height="71.9"/>
<rect class="lt" x="1851" y="9.7" width="25" height="2359.1"/>
<rect class="dk" x="1851" y="52.9" width="25" height="14.4"/>
<rect class="dk" x="1851" y="124.8" width="25" height="14.4"/>
<rect class="dk" x="1851" y="153.55" width="25" height="14.4"/>
<rect class="dk" x="1851" y="196.7" width="25" height="14.4"/>
<rect class="dk" x="1851" y="283" width="25" height="14.4"/>
<rect class="dk" x="1851" y="340.6" width="25" height="1021.3"/>
<rect class="dk" x="1851" y="1376.3" width="25" height="158.2"/>
<rect class="dk" x="1851" y="1548.9" width="25" height="100.7"/>
<rect class="dk" x="1851" y="1664" width="25" height="14.4"/>
<rect class="dk" x="1851" y="1692.75" width="25" height="57.5"/>
<rect class="dk" x="1851" y="1764.7" width="25" height="172.6"/>
<rect class="dk" x="1851" y="2095.5" width="25" height="100.7"/>
<rect class="dk" x="1851" y="2225" width="25" height="14.4"/>
<rect class="dk" x="1851" y="2253.8" width="25" height="71.9"/>
<rect x="1666" y="9.7" width="156" height="2359.1" fill="url(#rowgrid)"/>
<rect x="1851" y="9.7" width="25" height="2359.1" fill="url(#rowgrid)"/>
<path d="M1692 9.7V2369M1718 9.7V2369M1744 9.7V2369M1770 9.7V2369M1796 9.7V2369" stroke="#fff" stroke-width="1.5"/>
</g>

<g id="separators">
<path class="sep" d="M1652 3V2392M1836 3V2392M1889 3V2392"/>
</g>

<g id="flgF" transform="translate(0,6.2)">
<text class="pl" x="1915" y="16.9">+</text><text class="pl" x="1915" y="31.3">+</text><text class="pl" x="1915" y="45.7">+</text><text class="pl" x="1915" y="60.1">+</text><text class="pl" x="1915" y="74.4">+</text><text class="pl" x="1915" y="88.8">+</text><text class="pl" x="1915" y="103.2">+</text><text class="pl" x="1915" y="117.6">+</text><text class="pl" x="1915" y="132">+</text><text class="pl" x="1915" y="146.4">+</text>
<text class="pl" x="1915" y="160.8">+</text><text class="pl" x="1915" y="175.1">+</text><text class="pl" x="1915" y="189.5">+</text><text class="pl" x="1915" y="203.9">+</text><text class="pl" x="1915" y="218.3">+</text><text class="pl" x="1915" y="232.7">+</text><text class="pl" x="1915" y="247.1">+</text><text class="pl" x="1915" y="261.5">+</text><text class="pl" x="1915" y="275.8">+</text><text class="pl" x="1915" y="290.2">+</text>
<text class="pl" x="1915" y="304.6">+</text><text class="pl" x="1915" y="319">+</text><text class="pl" x="1915" y="333.4">+</text><text class="pl" x="1915" y="347.8">+</text><text class="pl" x="1915" y="362.2">+</text><text class="pl" x="1915" y="376.5">+</text><text class="pl" x="1915" y="390.9">+</text><text class="pl" x="1915" y="405.3">+</text><text class="pl" x="1915" y="419.7">+</text><text class="pl" x="1915" y="434.1">+</text>
<text class="pl" x="1915" y="448.5">+</text><text class="pl" x="1915" y="462.9">+</text><text class="pl" x="1915" y="477.2">+</text><text class="pl" x="1915" y="491.6">+</text><text class="pl" x="1915" y="506">+</text><text class="pl" x="1915" y="520.4">+</text><text class="pl" x="1915" y="534.8">+</text><text class="pl" x="1915" y="549.2">+</text><text class="pl" x="1915" y="563.6">+</text><text class="pl" x="1915" y="577.9">+</text>
<text class="pl" x="1915" y="592.3">+</text><text class="pl" x="1915" y="606.7">+</text><text class="pl" x="1915" y="621.1">+</text><text class="pl" x="1915" y="635.5">+</text><text class="pl" x="1915" y="649.9">+</text><text class="pl" x="1915" y="664.3">+</text><text class="pl" x="1915" y="678.6">+</text><text class="pl" x="1915" y="693">+</text><text class="pl" x="1915" y="707.4">+</text><text class="pl" x="1915" y="721.8">+</text>
<text class="pl" x="1915" y="736.2">+</text><text class="pl" x="1915" y="750.6">+</text><text class="pl" x="1915" y="765">+</text><text class="pl" x="1915" y="779.3">+</text><text class="pl" x="1915" y="793.7">+</text><text class="pl" x="1915" y="808.1">+</text><text class="pl" x="1915" y="822.5">+</text><text class="pl" x="1915" y="836.9">+</text><text class="pl" x="1915" y="851.3">+</text><text class="pl" x="1915" y="865.7">+</text>
<text class="pl" x="1915" y="880">+</text><text class="pl" x="1915" y="894.4">+</text><text class="pl" x="1915" y="908.8">+</text><text class="pl" x="1915" y="923.2">+</text><text class="pl" x="1915" y="937.6">+</text><text class="pl" x="1915" y="952">+</text><text class="pl" x="1915" y="966.4">+</text><text class="pl" x="1915" y="980.7">+</text><text class="pl" x="1915" y="995.1">+</text><text class="pl" x="1915" y="1009.5">+</text>
<text class="pl" x="1915" y="1023.9">+</text><text class="pl" x="1915" y="1038.3">+</text><text class="pl" x="1915" y="1052.7">+</text><text class="pl" x="1915" y="1067.1">+</text><text class="pl" x="1915" y="1081.4">+</text><text class="pl" x="1915" y="1095.8">+</text><text class="pl" x="1915" y="1110.2">+</text><text class="pl" x="1915" y="1124.6">+</text><text class="pl" x="1915" y="1139">+</text><text class="pl" x="1915" y="1153.4">+</text>
<text class="pl" x="1915" y="1167.8">+</text><text class="pl" x="1915" y="1182.1">+</text><text class="pl" x="1915" y="1196.5">+</text><text class="pl" x="1915" y="1210.9">+</text><text class="pl" x="1915" y="1225.3">+</text><text class="pl" x="1915" y="1239.7">+</text><text class="pl" x="1915" y="1254.1">+</text><text class="pl" x="1915" y="1268.5">+</text><text class="pl" x="1915" y="1282.8">+</text><text class="pl" x="1915" y="1297.2">+</text>
<text class="pl" x="1915" y="1311.6">+</text><text class="pl" x="1915" y="1326">+</text><text class="pl" x="1915" y="1340.4">+</text><text class="pl" x="1915" y="1354.8">+</text><text class="pl" x="1915" y="1369.2">+</text><text class="pl" x="1915" y="1383.5">+</text><text class="pl" x="1915" y="1397.9">+</text><text class="pl" x="1915" y="1412.3">+</text><text class="pl" x="1915" y="1426.7">+</text><text class="pl" x="1915" y="1441.1">+</text>
<text class="pl" x="1915" y="1455.5">+</text><text class="pl" x="1915" y="1469.9">+</text><text class="pl" x="1915" y="1484.2">+</text><text class="pl" x="1915" y="1498.6">+</text><text class="pl" x="1915" y="1513">+</text><text class="pl" x="1915" y="1527.4">+</text><text class="pl" x="1915" y="1541.8">+</text><text class="pl" x="1915" y="1556.2">+</text><text class="pl" x="1915" y="1570.6">+</text><text class="pl" x="1915" y="1584.9">+</text>
<text class="pl" x="1915" y="1599.3">+</text><text class="pl" x="1915" y="1613.7">+</text><text class="pl" x="1915" y="1628.1">+</text><text class="pl" x="1915" y="1642.5">+</text><text class="pl" x="1915" y="1656.9">+</text><text class="pl" x="1915" y="1671.3">+</text><text class="pl" x="1915" y="1685.6">+</text><text class="pl" x="1915" y="1700">+</text><text class="pl" x="1915" y="1714.4">+</text><text class="pl" x="1915" y="1728.8">+</text>
<text class="pl" x="1915" y="1743.2">+</text><text class="pl" x="1915" y="1757.6">+</text><text class="pl" x="1915" y="1772">+</text><text class="pl" x="1915" y="1786.3">+</text><text class="pl" x="1915" y="1800.7">+</text><text class="pl" x="1915" y="1815.1">+</text><text class="pl" x="1915" y="1829.5">+</text><text class="pl" x="1915" y="1843.9">+</text><text class="pl" x="1915" y="1858.3">+</text><text class="pl" x="1915" y="1872.7">+</text>
</g>

<g id="column-labels">
<text class="hd" transform="translate(1686,2401) rotate(-45)">a-subunit</text>
<text class="hd" transform="translate(1712,2401) rotate(-45)">b-subunit</text>
<text class="hd" transform="translate(1738,2401) rotate(-45)">a-subunit</text>
<text class="hd" transform="translate(1764,2401) rotate(-45)">b-subunit</text>
<text class="hd" transform="translate(1790,2401) rotate(-45)">a-subunit</text>
<text class="hd" transform="translate(1816,2401) rotate(-45)">b-subunit</text>
<text class="hd" transform="translate(1871,2401) rotate(-45)">Source</text>
<text class="hd" transform="translate(1922,2398) rotate(-45)">ΔflgF</text>
</g>

<g id="axis">
<path d="M0 2509.5H2008" stroke="#000" stroke-width="3.3"/>
<path d="M121.8 2511V2522M461.5 2511V2522M801.3 2511V2522M1141 2511V2522M1480.8 2511V2522" stroke="#333" stroke-width="2"/>
<text class="ax" transform="translate(121.8,2556) scale(0.9,1)">0.08</text>
<text class="ax" transform="translate(461.5,2556) scale(0.9,1)">0.06</text>
<text class="ax" transform="translate(801.3,2556) scale(0.9,1)">0.04</text>
<text class="ax" transform="translate(1141,2556) scale(0.9,1)">0.02</text>
<text class="ax" transform="translate(1480.8,2556) scale(0.9,1)">0.00</text>
</g>
</svg>
